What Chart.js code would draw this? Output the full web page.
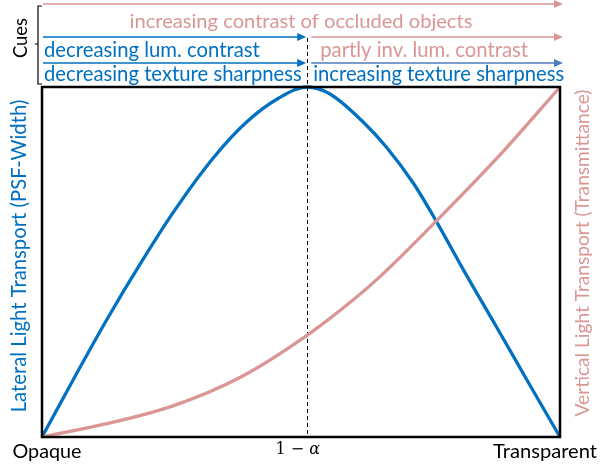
<!DOCTYPE html>
<html>
<head>
<meta charset="utf-8">
<script src="https://cdn.jsdelivr.net/npm/chart.js@4"></script>
<style>
  html, body { margin: 0; padding: 0; background: #fff; }
  canvas { display: block; }
</style>
</head>
<body>
<canvas id="chartCues" width="609" height="467"></canvas>
<script>
// positions along the opacity axis (0 = opaque, 1 = transparent)
const alphaX = 0.512;

// lateral light transport (PSF width)
const lateralX = [0, 0.060, 0.125, 0.189, 0.253, 0.331, 0.395, 0.459, 0.512, 0.556, 0.620, 0.665, 0.717, 0.761, 0.813, 0.878, 0.942, 1.0];
const lateralY = [0, 0.163, 0.335, 0.493, 0.641, 0.798, 0.900, 0.970, 1.0, 0.980, 0.900, 0.828, 0.725, 0.617, 0.479, 0.313, 0.148, 0];

// vertical light transport (transmittance)
const verticalX = [0, 0.125, 0.253, 0.382, 0.513, 0.601, 0.653, 0.761, 0.894, 1.0];
const verticalY = [0, 0.038, 0.089, 0.170, 0.292, 0.392, 0.459, 0.617, 0.822, 1.0];

const xTickValues = [0, alphaX, 1];
const xTickLabels = ['Opaque', '1 − α', 'Transparent'];

const yTitleLeft = 'Lateral Light Transport (PSF-Width)';
const yTitleRight = 'Vertical Light Transport (Transmittance)';

const BLUE = '#0070c0';
const PINK = '#da9694';
const STEEL = '#4a7ebb';
const FONT = 'Lato, "Open Sans", sans-serif';

// size a font so the text spans the width it has in the reference
function fitFont(ctx, text, width, family) {
    ctx.font = '20px ' + family;
    const w = ctx.measureText(text).width;
    return (20 * width / w).toFixed(2) + 'px ' + family;
}

function arrow(ctx, x1, x2, y, color) {
    ctx.save();
    ctx.strokeStyle = color; ctx.fillStyle = color; ctx.lineWidth = 1.6;
    ctx.beginPath(); ctx.moveTo(x1, y); ctx.lineTo(x2 - 7, y); ctx.stroke();
    ctx.beginPath(); ctx.moveTo(x2, y); ctx.lineTo(x2 - 9, y - 4); ctx.lineTo(x2 - 9, y + 4); ctx.closePath(); ctx.fill();
    ctx.restore();
}

function text(ctx, str, x, y, width, color, align, family) {
    ctx.save();
    ctx.font = fitFont(ctx, str, width, family || FONT);
    ctx.fillStyle = color; ctx.textAlign = align || 'left'; ctx.textBaseline = 'middle';
    ctx.fillText(str, x, y);
    ctx.restore();
}

function vtext(ctx, str, cx, cy, length, color) {
    ctx.save();
    ctx.translate(cx, cy); ctx.rotate(-Math.PI / 2);
    ctx.font = fitFont(ctx, str, length, FONT);
    ctx.fillStyle = color; ctx.textAlign = 'center'; ctx.textBaseline = 'middle';
    ctx.fillText(str, 0, 0);
    ctx.restore();
}

const decor = {
    id: 'decor',
    beforeDatasetsDraw(chart) {
        const { ctx, chartArea: a, scales: { x } } = chart;
        const xd = Math.round(x.getPixelForValue(alphaX)) + 0.5;
        ctx.save();
        ctx.strokeStyle = '#000'; ctx.lineWidth = 1; ctx.setLineDash([4, 3]);
        ctx.beginPath(); ctx.moveTo(xd, 38); ctx.lineTo(xd, a.bottom); ctx.stroke();
        ctx.restore();
    },
    afterDraw(chart) {
        const { ctx, chartArea: a, scales: { x } } = chart;
        const x0 = x.getPixelForValue(0), x1 = x.getPixelForValue(1), xd = x.getPixelForValue(alphaX);

        // frame
        ctx.save();
        ctx.strokeStyle = '#000'; ctx.lineWidth = 2.5;
        ctx.strokeRect(a.left, a.top, a.right - a.left, a.bottom - a.top);
        ctx.restore();

        // cue arrows and labels
        arrow(ctx, x0 + 1, x1 + 3, 4, PINK);
        text(ctx, 'increasing contrast of occluded objects', (x0 + x1) / 2, 22, 343, PINK, 'center');
        arrow(ctx, x0 + 1, xd - 1, 37, BLUE);
        arrow(ctx, xd + 4, x1 + 3, 37, PINK);
        text(ctx, 'decreasing lum. contrast', x0 + 2, 50, 216, BLUE);
        text(ctx, 'partly inv. lum. contrast', xd + 13, 50, 208, PINK);
        arrow(ctx, x0 + 1, xd - 1, 63, BLUE);
        arrow(ctx, xd + 4, x1 + 3, 63, STEEL);
        text(ctx, 'decreasing texture sharpness', x0 + 2, 74, 258, BLUE);
        text(ctx, 'increasing texture sharpness', xd + 6, 74, 251, BLUE);

        // bracket + "Cues"
        ctx.save();
        ctx.strokeStyle = '#000'; ctx.lineWidth = 1.2;
        ctx.beginPath();
        ctx.moveTo(42, 6); ctx.lineTo(38, 6); ctx.lineTo(38, 84); ctx.lineTo(42, 84);
        ctx.moveTo(38, 44); ctx.lineTo(35, 44);
        ctx.stroke();
        ctx.restore();
        vtext(ctx, 'Cues', 21, 38, 40, '#000');

        // axis titles
        vtext(ctx, yTitleLeft, 19, 256, 313, BLUE);
        vtext(ctx, yTitleRight, 583, 253, 327, PINK);

        // x tick labels
        const ty = 452;
        text(ctx, xTickLabels[0], x.getPixelForValue(xTickValues[0]) + 5, ty, 69, '#000', 'center');
        const xm = x.getPixelForValue(xTickValues[1]);
        ctx.save();
        ctx.fillStyle = '#000'; ctx.textBaseline = 'middle';
        ctx.font = '16px "DejaVu Serif", serif';
        ctx.textAlign = 'right';
        ctx.fillText('1 − ', xm + 2, ty - 2);
        ctx.font = 'italic 16px "DejaVu Serif", serif';
        ctx.textAlign = 'left';
        ctx.fillText('α', xm + 2, ty - 2);
        ctx.restore();
        text(ctx, xTickLabels[2], 597, ty, 104, '#000', 'right');
    }
};

const toPoints = (xs, ys) => xs.map((v, i) => ({ x: v, y: ys[i] }));

new Chart(document.getElementById('chartCues'), {
    type: 'line',
    data: {
        datasets: [
            {
                label: yTitleRight,
                data: toPoints(verticalX, verticalY),
                borderColor: PINK, borderWidth: 3.3,
                pointRadius: 0, cubicInterpolationMode: 'monotone', clip: false
            },
            {
                label: yTitleLeft,
                data: toPoints(lateralX, lateralY),
                borderColor: BLUE, borderWidth: 3.3,
                pointRadius: 0, cubicInterpolationMode: 'monotone', clip: false
            }
        ]
    },
    options: {
        responsive: false, animation: false,
        layout: { padding: { left: 42, right: 49, top: 87, bottom: 30 } },
        plugins: { legend: { display: false }, tooltip: { enabled: false } },
        scales: {
            x: { type: 'linear', min: 0, max: 1, display: false },
            y: { type: 'linear', min: 0, max: 1, display: false }
        }
    },
    plugins: [decor]
});
</script>
</body>
</html>
